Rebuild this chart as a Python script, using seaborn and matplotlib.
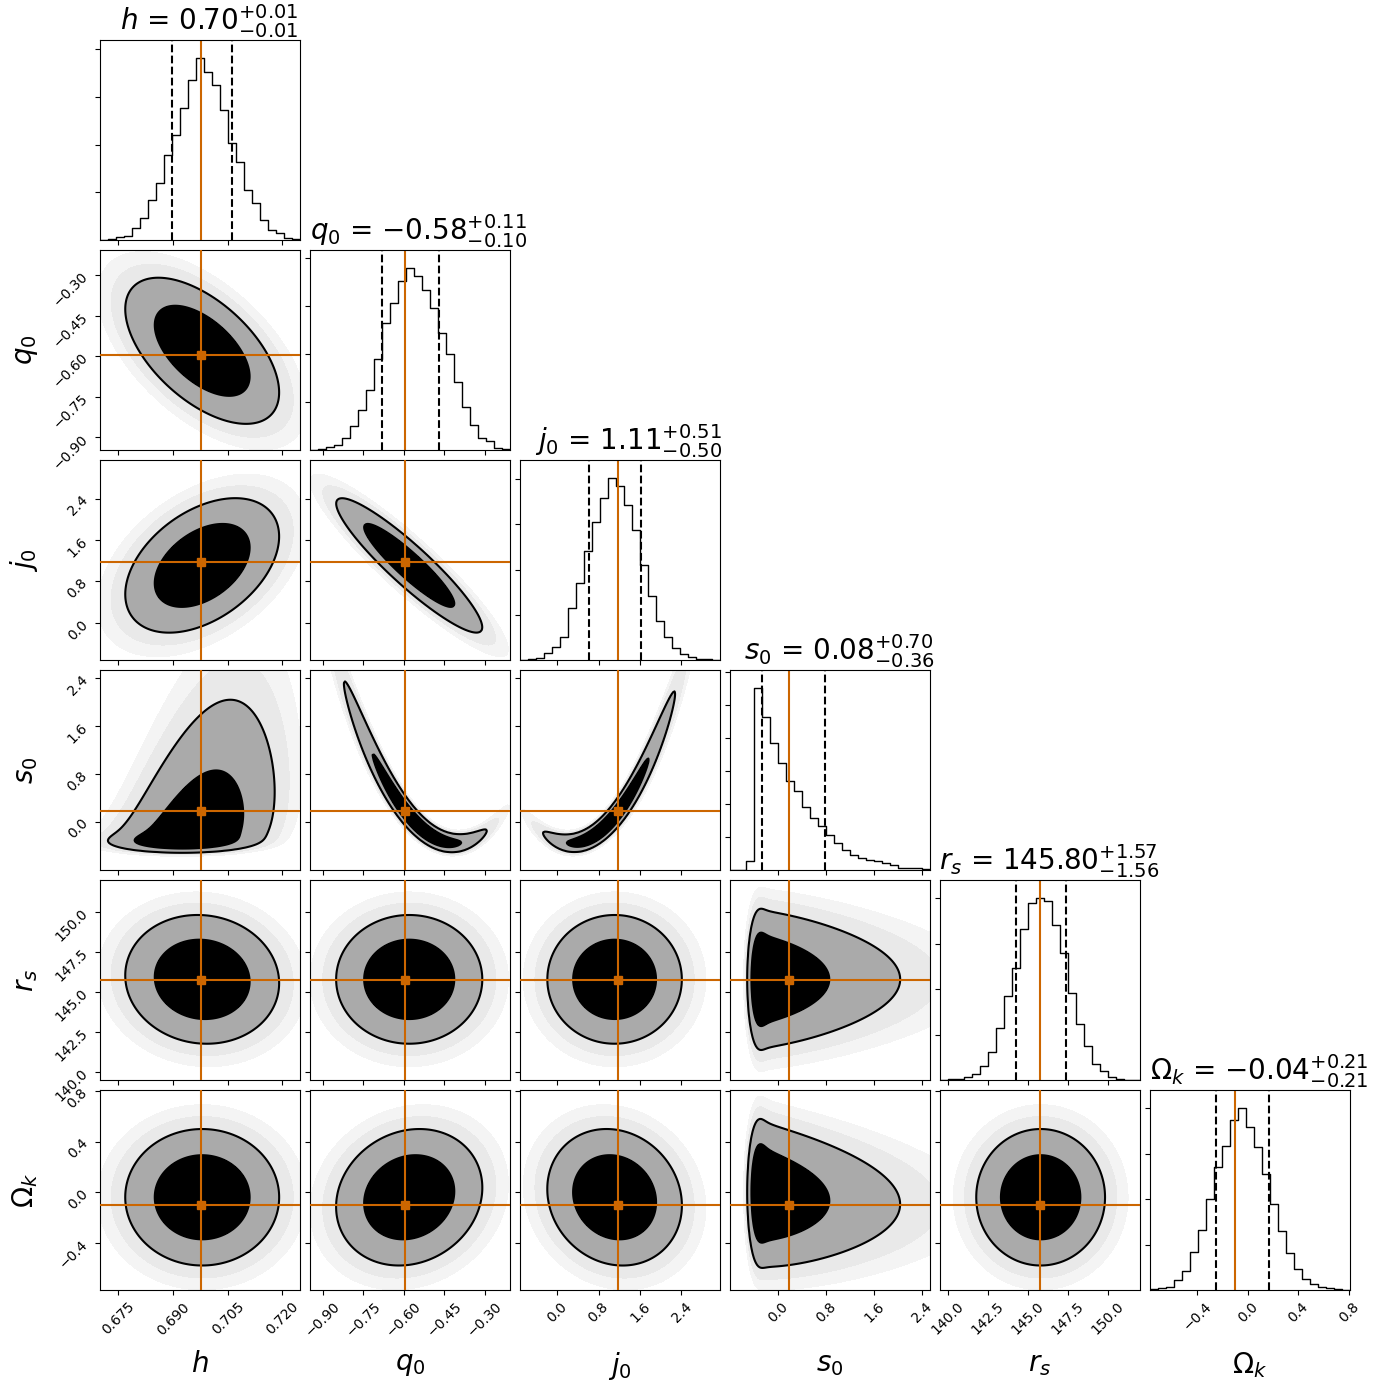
import numpy as np
import pandas as pd
import matplotlib
matplotlib.use("Agg")
import matplotlib.pyplot as plt
from matplotlib.ticker import FuncFormatter, FixedLocator
import seaborn as sns

# ---------------------------------------------------------------- data
param_labels = [r"$h$", r"$q_0$", r"$j_0$", r"$s_0$", r"$r_s$", r"$\Omega_k$"]
medians = [0.698, -0.58, 1.11, 0.08, 145.80, -0.04]
err_minus = [0.0082, 0.10, 0.50, 0.36, 1.56, 0.21]
err_plus = [0.0082, 0.11, 0.51, 0.70, 1.57, 0.21]
truths = [0.6976, -0.595, 1.18, 0.17, 145.75, -0.10]
axis_ranges = [(0.6700, 0.7248), (-0.9465, -0.2077), (-0.716, 3.145),
               (-0.812, 2.538), (139.51, 152.01), (-0.774, 0.809)]
tick_values = [[0.675, 0.690, 0.705, 0.720],
               [-0.90, -0.75, -0.60, -0.45, -0.30],
               [0.0, 0.8, 1.6, 2.4],
               [0.0, 0.8, 1.6, 2.4],
               [140.0, 142.5, 145.0, 147.5, 150.0],
               [-0.4, 0.0, 0.4, 0.8]]
tick_formats = ["%.3f", "%.2f", "%.1f", "%.1f", "%.1f", "%.1f"]

# 25-bin marginal histograms (counts per bin)
hist_h = [7, 28, 56, 84, 245, 455, 839, 1189, 1783, 2203, 2762, 3357, 3811,
          3531, 3252, 2727, 2028, 1643, 1049, 769, 420, 210, 140, 49, 28]
hist_q0 = [7, 28, 56, 112, 251, 503, 838, 1256, 1899, 2638, 3071, 3532, 3790,
           3630, 3336, 2967, 2443, 1996, 1417, 893, 530, 251, 195, 42, 21]
hist_j0 = [7, 15, 44, 148, 296, 519, 1156, 1704, 2415, 3052, 3578, 4022, 3852,
           3437, 2874, 2104, 1407, 859, 504, 267, 133, 59, 15, 15, 0]
hist_s0 = [0, 0, 284, 5513, 4629, 3858, 3249, 2700, 2396, 1909, 1584, 1320, 1076,
           822, 609, 467, 365, 305, 264, 203, 152, 71, 61, 61, 41]
hist_rs = [7, 15, 29, 59, 133, 317, 612, 1150, 1843, 2476, 3331, 3906, 4002,
           3943, 3405, 2786, 1923, 1238, 759, 354, 206, 59, 22, 0, 0]
hist_Ok = [22, 44, 74, 221, 427, 833, 1312, 2012, 2697, 3169, 3744, 4002, 3597,
           3140, 2543, 1887, 1297, 811, 457, 243, 133, 59, 44, 22, 7]
hist_counts = [hist_h, hist_q0, hist_j0, hist_s0, hist_rs, hist_Ok]

# pairwise correlations of the (near-Gaussian) parameters
pair_i = [0, 0, 1, 0, 1, 2, 0, 1, 2, 4]
pair_j = [1, 2, 2, 4, 4, 4, 5, 5, 5, 5]
pair_rho = [-0.57, 0.43, -0.92, -0.06, 0.0, 0.0, 0.0, 0.14, -0.12, 0.0]

# s0 ridge: s0 = a + b * (driver - c)^2, with conditional scatter
s0_curve_q0 = [-0.36, 15.6, -0.408]
s0_curve_j0 = [-0.36, 0.607, 0.25]
s0_noise = [0.07, 0.055]

# ---------------------------------------------------------------- style
truth_color = "#cc6600"
S0 = 3
DRIVER = 2
spread_scale = 1.05
contour_masses = [0.68, 0.95]
haze_masses = [0.996, 0.985]
haze_colors = ["#f4f4f4", "#e9e9e9"]
title_x = 0.545

sns.set_style("ticks", {"axes.edgecolor": "black", "xtick.color": "black",
                        "ytick.color": "black", "axes.labelcolor": "black",
                        "text.color": "black"})
plt.rcParams.update({"font.family": ["DejaVu Sans"], "mathtext.fontset": "dejavusans",
                     "xtick.major.size": 3.5, "ytick.major.size": 3.5,
                     "xtick.major.width": 0.8, "ytick.major.width": 0.8,
                     "axes.linewidth": 0.8, "font.size": 10,
                     "xtick.labelsize": 10, "ytick.labelsize": 10})

K = len(param_labels)
centre = list(medians)
spread = [(a + b) / 2 * spread_scale for a, b in zip(err_minus, err_plus)]
rho_map = {}
for a, b, r in zip(pair_i, pair_j, pair_rho):
    rho_map[(a, b)] = r
    rho_map[(b, a)] = r
s0_curves = {1: s0_curve_q0, 2: s0_curve_j0}


def ext_grid(v, n=260):
    lo, hi = axis_ranges[v]
    w = hi - lo
    return np.linspace(lo - 0.35 * w, hi + 0.35 * w, n)


def s0_kernel(ug, sg, curve):
    a, b, c = curve
    g = a + b * (ug - c) ** 2
    sig = s0_noise[0] + s0_noise[1] * (g - a)
    return np.exp(-0.5 * ((sg[None, :] - g[:, None]) / sig[:, None]) ** 2) / sig[:, None]


def panel_density(vx, vy):
    xg, yg = ext_grid(vx), ext_grid(vy)
    if S0 not in (vx, vy):
        r = rho_map.get((vx, vy), 0.0)
        zx = (xg[None, :] - centre[vx]) / spread[vx]
        zy = (yg[:, None] - centre[vy]) / spread[vy]
        Z = np.exp(-(zx ** 2 - 2 * r * zx * zy + zy ** 2) / (2 * (1 - r ** 2)))
        return xg, yg, Z
    other = vx if vy == S0 else vy
    og = xg if vy == S0 else yg
    sg = yg if vy == S0 else xg
    if other in s0_curves:
        px = np.exp(-0.5 * ((og - centre[other]) / spread[other]) ** 2)
        D = px[:, None] * s0_kernel(og, sg, s0_curves[other])
    else:
        ug = np.linspace(centre[DRIVER] - 6 * spread[DRIVER],
                         centre[DRIVER] + 6 * spread[DRIVER], 500)
        r = rho_map.get((other, DRIVER), 0.0)
        zo = (og[:, None] - centre[other]) / spread[other]
        zu = (ug[None, :] - centre[DRIVER]) / spread[DRIVER]
        A = np.exp(-(zo ** 2 - 2 * r * zo * zu + zu ** 2) / (2 * (1 - r ** 2)))
        D = A @ s0_kernel(ug, sg, s0_curves[DRIVER])
    Z = D.T if vy == S0 else D
    return xg, yg, Z


def mass_level(flat, cum, m):
    idx = min(np.searchsorted(cum, m), len(flat) - 1)
    return flat[idx]


def fmt_func(f):
    return FuncFormatter(lambda v, p: (f % v).replace("-", "\u2212"))


fig, axes = plt.subplots(K, K, figsize=(13.9, 13.9), dpi=100)
lb = 1.0 / 13.9
tr = 13.5 / 13.9
fig.subplots_adjust(left=lb, bottom=lb, right=tr, top=tr, wspace=0.05, hspace=0.05)

for i in range(K):
    for j in range(K):
        ax = axes[i, j]
        if j > i:
            ax.set_frame_on(False)
            ax.set_xticks([])
            ax.set_yticks([])
            continue
        if i == j:
            lo, hi = axis_ranges[i]
            nb = len(hist_counts[i])
            edges = np.linspace(lo, hi, nb + 1)
            df = pd.DataFrame({"value": 0.5 * (edges[:-1] + edges[1:]),
                               "count": hist_counts[i]})
            sns.histplot(data=df, x="value", weights="count", bins=nb,
                         binrange=(lo, hi), element="step", fill=False,
                         color="black", linewidth=1.0, ax=ax)
            m = medians[i]
            ax.axvline(m - err_minus[i], ls="--", color="black", lw=1.5)
            ax.axvline(m + err_plus[i], ls="--", color="black", lw=1.5)
            ax.axvline(truths[i], color=truth_color, lw=1.5)
            ymax = 1.1 * max(hist_counts[i])
            ax.set_ylim(0, ymax)
            ax.yaxis.set_major_locator(FixedLocator(np.arange(1000, ymax, 1000)))
            ax.set_yticklabels([])
            ax.set_ylabel("")
            ax.set_xlabel("")
            title = "{0} = ${1}_{{-{2}}}^{{+{3}}}$".format(
                param_labels[i], ("%.2f" % m), ("%.2f" % err_minus[i]), ("%.2f" % err_plus[i]))
            ax.set_title(title, fontsize=20, x=title_x)
        else:
            xg, yg, Z = panel_density(j, i)
            Z = Z / Z.sum()
            flat = np.sort(Z.ravel())[::-1]
            cum = np.cumsum(flat)
            v68 = mass_level(flat, cum, contour_masses[0])
            v95 = mass_level(flat, cum, contour_masses[1])
            haze = [mass_level(flat, cum, mm) for mm in haze_masses]
            ax.contourf(xg, yg, Z, levels=haze + [v95], colors=haze_colors, zorder=1)
            ax.contourf(xg, yg, Z, levels=[v95, v68, Z.max() * 1.001],
                        colors=["#aaaaaa", "black"], zorder=2)
            ax.contour(xg, yg, Z, levels=[v95, v68], colors="black",
                       linewidths=1.5, zorder=3)
            ax.axvline(truths[j], color=truth_color, lw=1.5, zorder=4)
            ax.axhline(truths[i], color=truth_color, lw=1.5, zorder=4)
            ax.plot([truths[j]], [truths[i]], "s", color=truth_color, ms=6, zorder=5)
            ax.set_ylim(axis_ranges[i])
            ax.yaxis.set_major_locator(FixedLocator(tick_values[i]))
            if j == 0:
                ax.yaxis.set_major_formatter(fmt_func(tick_formats[i]))
                ax.tick_params(axis="y", labelrotation=45)
                ax.set_ylabel(param_labels[i], fontsize=20)
                ax.yaxis.set_label_coords(-0.3, 0.5)
            else:
                ax.set_yticklabels([])
        ax.set_xlim(axis_ranges[j])
        ax.xaxis.set_major_locator(FixedLocator(tick_values[j]))
        if i == K - 1:
            ax.xaxis.set_major_formatter(fmt_func(tick_formats[j]))
            ax.tick_params(axis="x", labelrotation=45)
            ax.set_xlabel(param_labels[j], fontsize=20)
            ax.xaxis.set_label_coords(0.5, -0.3)
        else:
            ax.set_xticklabels([])
            ax.set_xlabel("")
        for sp in ax.spines.values():
            sp.set_visible(True)
            sp.set_color("black")

fig.savefig("out.png", dpi=100)
